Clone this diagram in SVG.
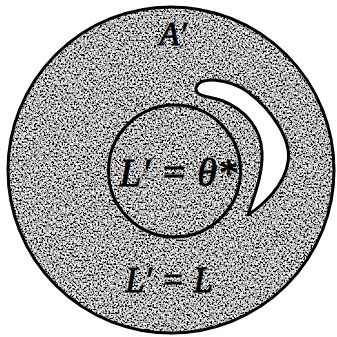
<svg xmlns="http://www.w3.org/2000/svg" width="337" height="337" viewBox="0 0 337 337">
  <style>
    .ln { stroke: #000; stroke-width: 3; }
    .lbl { font-family: "Liberation Serif", "DejaVu Serif", serif; font-style: italic; fill: #000; stroke: #000; stroke-width: 0.8; }
  </style>
  <defs>
    <filter id="grain" x="0" y="0" width="100%" height="100%" filterUnits="userSpaceOnUse">
      <feTurbulence type="fractalNoise" baseFrequency="0.55" numOctaves="2" seed="7" result="n"/>
      <feColorMatrix in="n" type="matrix" values="3 0 0 0 -1.05  3 0 0 0 -1.05  3 0 0 0 -1.05  0 0 0 0 1" result="g"/>
      <feComposite in="g" in2="SourceGraphic" operator="in"/>
    </filter>
  </defs>
  <rect width="337" height="337" fill="#fff"/>
  <g id="outer-region">
    <circle cx="171" cy="170" r="163" fill="#888" filter="url(#grain)"/>
    <circle cx="171" cy="170" r="163" fill="none" class="ln"/>
  </g>
  <g id="inner-region">
    <circle cx="174.5" cy="171" r="66" fill="none" class="ln"/>
  </g>
  <g id="crescent">
    <path d="M196,88 C199,76 228,78 248,92 C272,110 292,140 288,162 C285,185 263,205 248,215 C254,196 263,175 262,152 C261,128 245,110 223,101 C210,96 195,97 196,88 Z" fill="#fff" class="ln" stroke-linejoin="round"/>
  </g>
  <g id="labels">
    <text class="lbl" x="173" y="45" font-size="33" text-anchor="middle">A′</text>
    <text class="lbl" x="178" y="186" font-size="40" text-anchor="middle">L′ = θ*</text>
    <text class="lbl" x="169" y="292" font-size="35" text-anchor="middle">L′ = L</text>
  </g>
  <g id="connectors"/>
</svg>
